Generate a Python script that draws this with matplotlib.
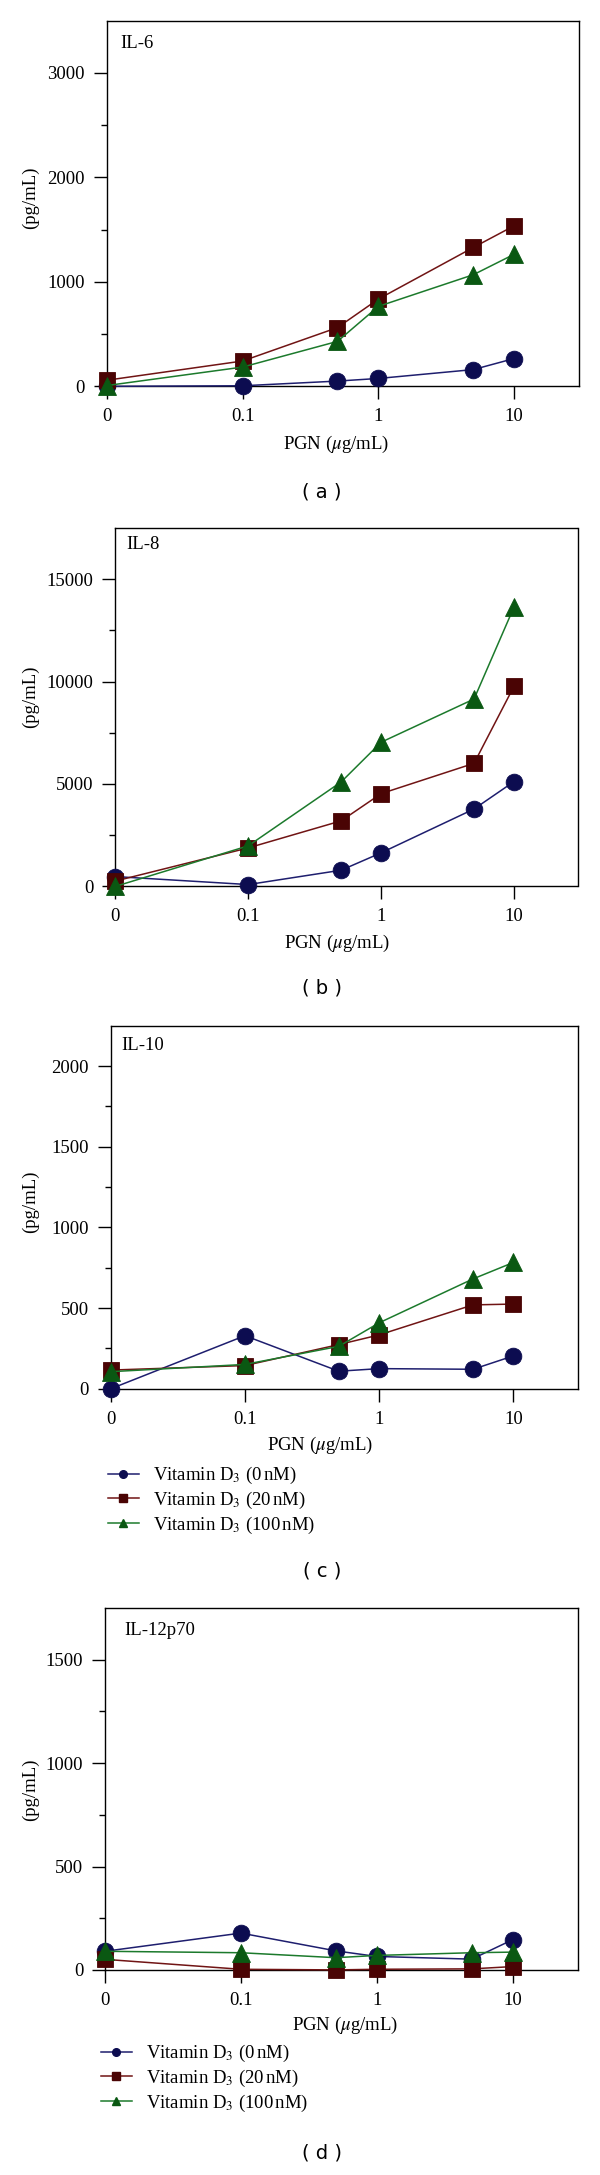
import matplotlib
matplotlib.use("Agg")
import matplotlib.pyplot as plt
from matplotlib.lines import Line2D

plt.rcParams['font.family'] = ['Liberation Serif', 'DejaVu Serif']
plt.rcParams['mathtext.fontset'] = 'stix'

# ---------------- data ----------------
pgn = [0, 0.1, 0.5, 1, 5, 10]
xtick_vals = [0, 0.1, 1, 10]
xtick_labels = ['0', '0.1', '1', '10']
series_names = ['Vitamin D$_3$ (0$\\,$nM)', 'Vitamin D$_3$ (20$\\,$nM)', 'Vitamin D$_3$ (100$\\,$nM)']

il6_vd0 = [0, 5, 50, 75, 160, 266]
il6_vd20 = [58, 242, 562, 835, 1329, 1537]
il6_vd100 = [7, 184, 430, 765, 1068, 1264]

il8_vd0 = [480, 90, 790, 1640, 3780, 5120]
il8_vd20 = [260, 1880, 3200, 4530, 6010, 9780]
il8_vd100 = [0, 1980, 5100, 7040, 9150, 13650]

il10_vd0 = [0, 329, 109, 125, 121, 204]
il10_vd20 = [116, 144, 274, 334, 520, 525]
il10_vd100 = [106, 151, 263, 409, 681, 783]

il12_vd0 = [90, 178, 92, 65, 52, 146]
il12_vd20 = [51, 3, 0, 3, 5, 16]
il12_vd100 = [90, 83, 59, 70, 83, 86]

panel_titles = ['IL-6', 'IL-8', 'IL-10', 'IL-12p70']
panel_letters = ['( a )', '( b )', '( c )', '( d )']
panel_data = [
    (il6_vd0, il6_vd20, il6_vd100),
    (il8_vd0, il8_vd20, il8_vd100),
    (il10_vd0, il10_vd20, il10_vd100),
    (il12_vd0, il12_vd20, il12_vd100),
]
y_major = [[0, 1000, 2000, 3000], [0, 5000, 10000, 15000],
           [0, 500, 1000, 1500, 2000], [0, 500, 1000, 1500]]
y_minor = [[500, 1500, 2500], [2500, 7500, 12500],
           [250, 750, 1250, 1750], [250, 750, 1250]]
y_top = [3500, 17500, 2250, 1750]

# ---------------- styles / layout ----------------
W, H = 600, 2175
DPI = 100
fig = plt.figure(figsize=(W / DPI, H / DPI), dpi=DPI)

markers = ['o', 's', '^']
face_colors = ['#0c0c50', '#4a0404', '#0a5812']
line_colors = ['#1e1e6e', '#701414', '#1c7a2c']

# axes boxes in pixels: left, right, top, bottom (top-origin)
boxes = [(106.7, 579, 20.7, 386.3),
         (115.3, 577.5, 528, 886.4),
         (110.7, 577.5, 1025.7, 1388.8),
         (105, 577.5, 1608, 1969.9)]
title_off = [(14, 27), (11, 21), (11, 24), (19, 27)]
xlabel_pos = [(336, 444.6), (337, 943.6), (320, 1445.9), (345, 2025.8)]
ylabel_y = [198, 697, 1202, 1790]
letter_y = [492.3, 988.2, 1571.2, 2152.8]
legend_pos = {2: (108, 1465), 3: (101, 2043)}

FS = 13.5

for i in range(4):
    l, r, t, b = boxes[i]
    ax = fig.add_axes([l / W, 1 - b / H, (r - l) / W, (b - t) / H])
    ax.set_xscale('symlog', linthresh=0.1, linscale=0.9)
    for j in range(3):
        ax.plot(pgn, panel_data[i][j], color=line_colors[j], lw=1.1,
                marker=markers[j], markersize=12 if j != 2 else 12.5,
                markerfacecolor=face_colors[j], markeredgecolor=face_colors[j],
                markeredgewidth=0.6, clip_on=False, zorder=3 + j)
    ax.set_xlim(0, 30)
    ax.set_ylim(0, y_top[i])
    ax.set_xticks(xtick_vals)
    ax.set_xticklabels(xtick_labels)
    ax.xaxis.set_minor_locator(matplotlib.ticker.NullLocator())
    ax.set_yticks(y_major[i])
    ax.set_yticklabels([str(v) for v in y_major[i]])
    ax.set_yticks(y_minor[i], minor=True)
    ax.tick_params(axis='both', which='major', direction='out', length=9.2,
                   width=1.0, labelsize=FS, pad=6.5, color='black')
    ax.tick_params(axis='y', which='minor', direction='out', length=4.5, width=1.0)
    for sp in ax.spines.values():
        sp.set_linewidth(1.0)
        sp.set_color('black')
    ax.annotate(panel_titles[i], xy=(0, 1), xycoords='axes fraction',
                xytext=(title_off[i][0] * 72 / DPI, -title_off[i][1] * 72 / DPI),
                textcoords='offset points', ha='left', va='baseline', fontsize=FS)

    fig.text(xlabel_pos[i][0] / W, 1 - xlabel_pos[i][1] / H, 'PGN ($\\mu$g/mL)',
             ha='center', va='center', fontsize=FS)
    fig.text(30 / W, 1 - ylabel_y[i] / H, '(pg/mL)', rotation=90,
             ha='center', va='center', fontsize=FS)
    fig.text(322 / W, 1 - letter_y[i] / H, panel_letters[i], ha='center', va='center',
             fontsize=14, family='DejaVu Sans')

    if i in legend_pos:
        handles = [Line2D([], [], color=line_colors[j], lw=1.1, marker=markers[j],
                          markersize=5.5, markerfacecolor=face_colors[j],
                          markeredgecolor=face_colors[j]) for j in range(3)]
        lx, ly = legend_pos[i]
        fig.legend(handles, series_names, loc='upper left',
                   bbox_to_anchor=(lx / W, 1 - ly / H), frameon=False,
                   fontsize=FS, handlelength=1.65, handletextpad=0.75,
                   labelspacing=0.2, borderpad=0, borderaxespad=0)

fig.savefig('out.png', dpi=DPI)
